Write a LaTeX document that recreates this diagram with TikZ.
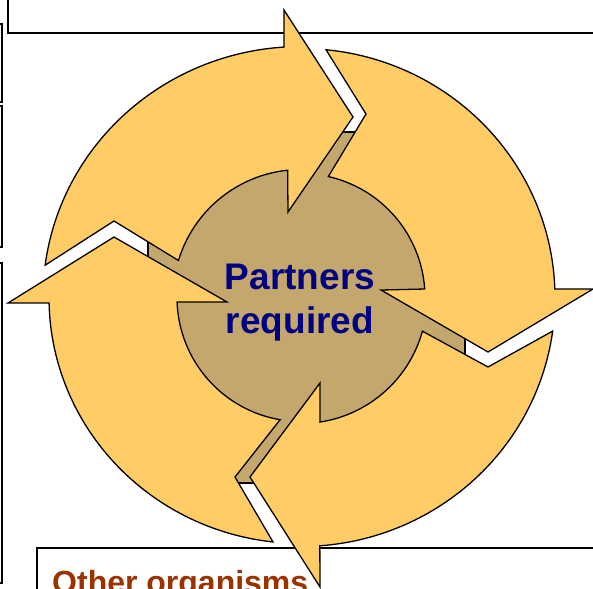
\documentclass[tikz,border=0pt]{standalone}
\usepackage{fontspec}
\setmainfont{Liberation Sans}
\usetikzlibrary{calc}
\definecolor{arrowfill}{RGB}{255,204,102}
\definecolor{tanfill}{RGB}{196,167,108}
\definecolor{navytext}{RGB}{0,0,128}
\definecolor{rusttext}{RGB}{153,51,0}
\begin{document}
\begin{tikzpicture}[x=1pt,y=-1pt,
  cyc/.style={fill=arrowfill, draw=black, line width=1.3pt, line join=miter},
  tanbox/.style={fill=tanfill, draw=black, line width=1.3pt},
  boxline/.style={fill=white, draw=black, line width=2pt},
  centertext/.style={font=\fontsize{37}{43}\selectfont\bfseries, text=navytext, anchor=base, inner sep=0pt},
  boxtext/.style={font=\fontsize{32}{38}\selectfont\bfseries, text=rusttext, anchor=base west, inner sep=0pt}]
\useasboundingbox (0,0) rectangle (593,588);
\clip (0,0) rectangle (593,588);
% boxes, mostly outside the picture
\draw[boxline] (8,-20) rectangle (620,33);
\draw[boxline] (-30,24) rectangle (2,102);
\draw[boxline] (-30,106) rectangle (2,247);
\draw[boxline] (-30,263) rectangle (2,583);
\draw[boxline] (37,548) rectangle (620,620);
\node[boxtext] (other) at (52,593) {Other organisms};
% tan background
\draw[tanbox] (148,132) rectangle (465,483);
\coordinate (C) at (301,297.5);
% arrow 1 (left to top)
\draw[cyc] ($(C)+(187.4:258 and 251)$) arc[start angle=187.4, end angle=266.2, x radius=258, y radius=251]
  -- (284,10) -- (353,117) -- (288,212) -- ($(C)+(264:128)$)
  arc[start angle=264, end angle=196.8, radius=128] -- (114,221) -- cycle;
% arrow 2 (top to right)
\draw[cyc] ($(C)+(275.65:254 and 249)$) arc[start angle=275.65, end angle=358.04, x radius=254, y radius=249]
  -- (593,289) -- (488,352) -- (381,290) -- ($(C)+(356.08:124)$)
  arc[start angle=356.08, end angle=282.73, radius=124] -- (366,114) -- cycle;
% arrow 3 (right to bottom)
\draw[cyc] ($(C)+(7.75:254 and 249)$) arc[start angle=7.75, end angle=85.75, x radius=254, y radius=249]
  -- (320,587) -- (250,477) -- (320,383) -- ($(C)+(81.3:126)$)
  arc[start angle=81.3, end angle=15.5, radius=126] -- (488,367) -- cycle;
% arrow 4 (bottom to left)
\draw[cyc] ($(C)+(96.38:252 and 246)$) arc[start angle=96.38, end angle=178.72, x radius=252, y radius=246]
  -- (8,303) -- (114,237) -- (227,302) -- ($(C)+(177.9:124)$)
  arc[start angle=177.9, end angle=99.7, radius=124] -- (235,477) -- cycle;
% centre text
\node[centertext] (p1) at (300,289) {Partners};
\node[centertext] (p2) at (300,333) {required};
\end{tikzpicture}
\end{document}
